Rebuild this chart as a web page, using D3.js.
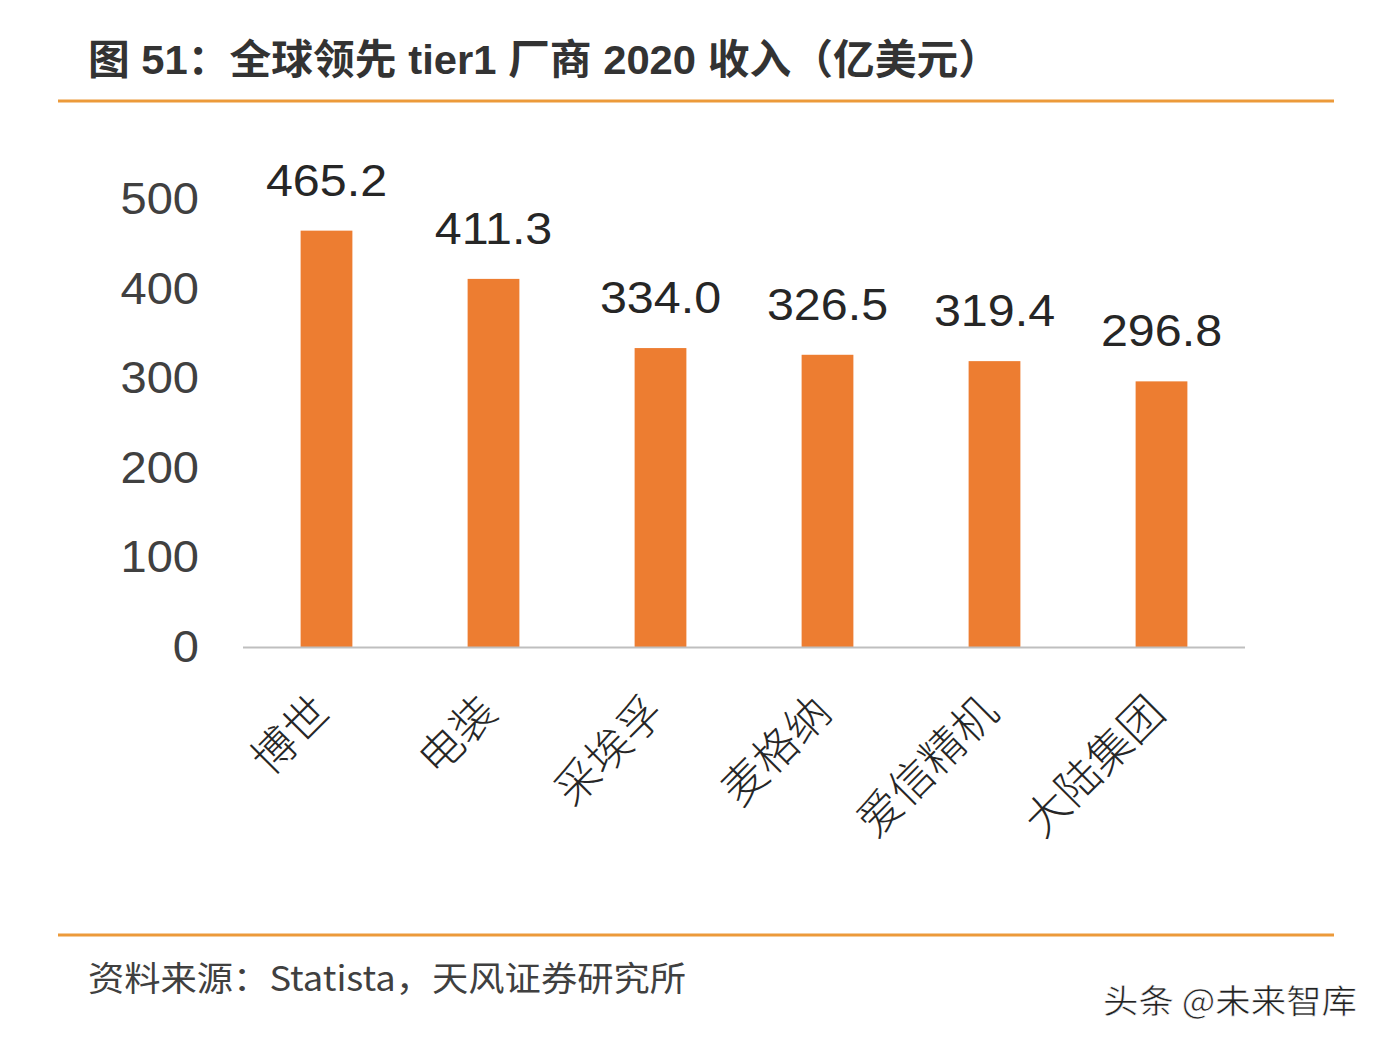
<!DOCTYPE html>
<html><head><meta charset="utf-8">
<script src="https://cdn.jsdelivr.net/npm/d3@7"></script>
<style>
html,body{margin:0;padding:0;background:#fff;}
</style></head>
<body>
<svg id="chart" width="1388" height="1050"></svg>
<script>
const categories = ["博世","电装","采埃孚","麦格纳","爱信精机","大陆集团"];
const revenue = [465.2, 411.3, 334.0, 326.5, 319.4, 296.8];
const yTicks = [0,100,200,300,400,500];
const titleText = "图 51：全球领先 tier1 厂商 2020 收入（亿美元）";
const sourceText = "资料来源：Statista，天风证券研究所";
const watermark = "头条 @未来智库";

const svg = d3.select("#chart");
const cjk = "'Liberation Sans', Arial, 'Noto Sans CJK SC', sans-serif";
const num = "'Liberation Sans', Arial, sans-serif";

svg.append("rect").attr("width",1388).attr("height",1050).attr("fill","#fff");

// title
svg.append("text").attr("x",88).attr("y",74)
  .attr("font-family",cjk).attr("font-weight","bold").attr("font-size",41)
  .attr("fill","#333").attr("textLength",912).attr("lengthAdjust","spacingAndGlyphs")
  .text(titleText);
svg.append("line").attr("x1",58).attr("x2",1334).attr("y1",101).attr("y2",101)
  .attr("stroke","#EC9A3A").attr("stroke-width",3);

const x = d3.scaleBand().domain(categories).range([243,1245]).paddingInner(0.69).paddingOuter(0.345);
const y = d3.scaleLinear().domain([0,500]).range([647,199.5]);

// y axis tick labels
const yAxis = d3.axisLeft(y).tickValues(yTicks).tickSize(0).tickPadding(0);
const gy = svg.append("g").attr("transform","translate(199,0)").call(yAxis);
gy.select(".domain").remove();
gy.selectAll("text").attr("font-family",num)
  .attr("font-size",44).attr("fill","#404040")
  .attr("transform","scale(1.07,1)");

// bars
svg.append("g").selectAll("rect").data(revenue).join("rect")
  .attr("x",(d,i)=>x(categories[i]))
  .attr("width",x.bandwidth())
  .attr("y",d=>y(d))
  .attr("height",d=>y(0)-y(d))
  .attr("fill","#ED7D31");

// value labels
svg.append("g").selectAll("text").data(revenue).join("text")
  .attr("transform",(d,i)=>`translate(${x(categories[i])+x.bandwidth()/2},${y(d)-35}) scale(1.1,1)`)
  .attr("text-anchor","middle")
  .attr("font-family",num)
  .attr("font-size",44).attr("fill","#262626")
  .text(d=>d.toFixed(1));

// x axis
const xAxis = d3.axisBottom(x).tickSize(0).tickPadding(0);
const gx = svg.append("g").attr("transform",`translate(0,${y(0)})`).call(xAxis);
gx.select(".domain").attr("stroke","#bfbfbf").attr("stroke-width",2)
  .attr("d","M243,0.5H1245");
gx.selectAll(".tick text")
  .attr("font-family","'Noto Sans CJK SC', sans-serif")
  .attr("font-weight",300)
  .attr("font-size",44).attr("fill","#262626")
  .attr("text-anchor","end")
  .attr("dy",null)
  .attr("transform","translate(6,68) rotate(-45)");

// bottom line and source
svg.append("line").attr("x1",58).attr("x2",1334).attr("y1",935).attr("y2",935)
  .attr("stroke","#EC9A3A").attr("stroke-width",3);
svg.append("text").attr("x",88).attr("y",991)
  .attr("font-family","'Noto Sans CJK SC', sans-serif").attr("font-size",34)
  .attr("fill","#404040").attr("textLength",598).attr("lengthAdjust","spacingAndGlyphs")
  .text(sourceText);
svg.append("text").attr("x",1103).attr("y",1013)
  .attr("font-family","'Noto Sans CJK SC', sans-serif").attr("font-size",33)
  .attr("fill","#222").attr("stroke","#fff").attr("stroke-width",0.6)
  .attr("textLength",254).attr("lengthAdjust","spacingAndGlyphs")
  .text(watermark);
</script>
</body></html>
